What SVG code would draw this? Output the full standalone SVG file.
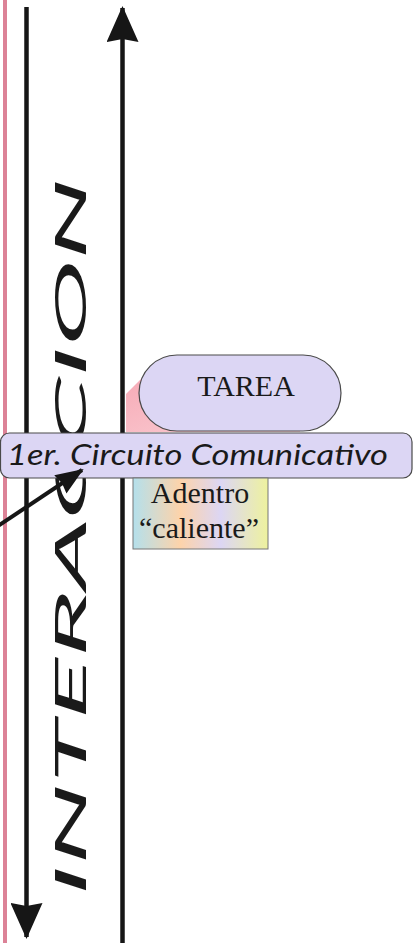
<svg xmlns="http://www.w3.org/2000/svg" width="413" height="943" viewBox="0 0 413 943">
  <defs>
    <style>
      .axis { stroke: #161616; stroke-width: 4.5; fill: none; }
      .sans { font-family: Lato, "Liberation Sans", sans-serif; font-style: italic; fill: #1a1a1a; }
      .serif { font-family: "Liberation Serif", "Times New Roman", serif; fill: #1a1a1a; }
      .node { fill: #dcd6f4; stroke: #4a4a4a; stroke-width: 1.2; }
    </style>
    <marker id="headBig" viewBox="0 0 36 32" refX="34" refY="16" markerWidth="36" markerHeight="32" markerUnits="userSpaceOnUse" orient="auto">
      <path d="M0,0 L36,16 L0,32 L3,16 Z" fill="#161616"/>
    </marker>
    <marker id="headSmall" viewBox="0 0 28 22" refX="26" refY="11" markerWidth="28" markerHeight="22" markerUnits="userSpaceOnUse" orient="auto">
      <path d="M0,0 L28,11 L0,22 L2,11 Z" fill="#161616"/>
    </marker>
    <linearGradient id="pinkGrad" x1="0" y1="0" x2="1" y2="1">
      <stop offset="0" stop-color="#f6a9b5"/>
      <stop offset="1" stop-color="#fbd0d6"/>
    </linearGradient>
    <linearGradient id="rainbow" x1="0" y1="0" x2="1" y2="0">
      <stop offset="0" stop-color="#b4e0ec"/>
      <stop offset="0.35" stop-color="#fdd3aa"/>
      <stop offset="0.65" stop-color="#dcd6f4"/>
      <stop offset="1" stop-color="#eef29e"/>
    </linearGradient>
  </defs>

  <rect width="413" height="943" fill="#ffffff"/>

  <g id="margin-line">
    <line x1="5" y1="0" x2="5" y2="943" stroke="#dc8297" stroke-width="4"/>
  </g>

  <g id="connectors">
    <line class="axis" x1="26.5" y1="7" x2="26.5" y2="937" marker-end="url(#headBig)"/>
    <line class="axis" x1="122.5" y1="943" x2="122.5" y2="8" marker-end="url(#headBig)"/>
  </g>

  <g id="interaccion">
    <text class="sans" font-weight="400" transform="translate(86,896) rotate(-90)" x="0" y="0" font-size="42" textLength="718" lengthAdjust="spacingAndGlyphs">INTERACCION</text>
  </g>

  <g id="tarea">
    <path d="M148,372 L126,394 L126,432 L300,432 L300,372 Z" fill="url(#pinkGrad)"/>
    <rect class="node" x="139" y="355" width="202" height="76" rx="38" ry="38"/>
    <text class="serif" x="246" y="396" font-size="30" text-anchor="middle">TAREA</text>
  </g>

  <g id="circuito">
    <rect class="node" x="0.5" y="433" width="411.5" height="45" rx="9" ry="9"/>
    <text class="sans" font-weight="400" x="7" y="465" font-size="29" textLength="381" lengthAdjust="spacingAndGlyphs">1er. Circuito Comunicativo</text>
  </g>

  <g id="adentro">
    <rect x="133" y="478" width="135" height="71" fill="url(#rainbow)" stroke="#777777" stroke-width="1"/>
    <text class="serif" x="200" y="503" font-size="30" text-anchor="middle">Adentro</text>
    <text class="serif" x="199" y="538" font-size="30" text-anchor="middle">“caliente”</text>
  </g>

  <g id="connectors-front">
    <line x1="-2" y1="526" x2="82" y2="470" stroke="#161616" stroke-width="4" marker-end="url(#headSmall)"/>
  </g>
</svg>
